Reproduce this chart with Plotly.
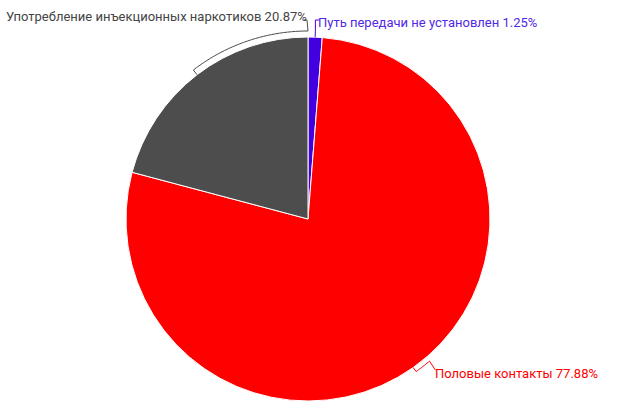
import math
import plotly.graph_objects as go

labels = ["Путь передачи не установлен", "Половые контакты", "Употребление инъекционных наркотиков"]
values = [1.25, 77.88, 20.87]
colors = ["#4200e0", "#ff0000", "#4d4d4d"]
text_colors = ["#5028e4", "#ff0000", "#444444"]

W, H = 630, 420
L, T, SIZE = 126, 37, 364
R_PX = SIZE / 2
CX, CY = L + R_PX, T + R_PX


def to_paper(px, py):
    return (px - L) / SIZE, 1 - (py - T) / SIZE


def polar(angle_deg, r):
    a = math.radians(angle_deg)
    return CX + r * math.sin(a), CY - r * math.cos(a)


def path_from(points):
    pts = [to_paper(*p) for p in points]
    return "M " + " L ".join(f"{x:.5f},{y:.5f}" for x, y in pts)


fig = go.Figure(go.Pie(
    labels=labels, values=values, sort=False, direction="clockwise", rotation=0,
    marker=dict(colors=colors, line=dict(color="#ffffff", width=1)),
    textinfo="none", hoverinfo="label+percent", showlegend=False,
))

total = sum(values)
starts, ends = [], []
acc = 0
for v in values:
    starts.append(acc / total * 360)
    acc += v
    ends.append(acc / total * 360)
mids = [(s + e) / 2 for s, e in zip(starts, ends)]

off = 6
shapes = []
annotations = []
font = "Roboto, sans-serif"
fs = 13

# blue label (index 0)
p0 = polar(mids[0], R_PX)
p1 = polar(mids[0], R_PX + off)
top_y = 20
pts = [p0, p1, (p1[0], top_y), (p1[0] + 4, top_y)]
shapes.append(dict(type="path", path=path_from(pts), xref="paper", yref="paper",
                   line=dict(color=colors[0], width=1)))
ax, ay = to_paper(p1[0] + 1, 23)
annotations.append(dict(text=f"{labels[0]} {values[0]:.2f}%", x=ax, y=ay, xref="paper", yref="paper",
                        xanchor="left", yanchor="middle", showarrow=False,
                        font=dict(family=font, size=fs, color=text_colors[0])))

# gray label (index 2)
arc = [polar(mids[2], R_PX)]
n = 30
for i in range(n + 1):
    ang = mids[2] + (ends[2] - mids[2]) * i / n
    arc.append(polar(ang, R_PX + off))
last = arc[-1]
arc.append((last[0] - 1, top_y))
arc.append((last[0] - 4, top_y))
shapes.append(dict(type="path", path=path_from(arc), xref="paper", yref="paper",
                   line=dict(color=colors[2], width=1)))
ax, ay = to_paper(last[0] + 1, 17)
annotations.append(dict(text=f"{labels[2]} {values[2]:.2f}%", x=ax, y=ay, xref="paper", yref="paper",
                        xanchor="right", yanchor="middle", showarrow=False,
                        font=dict(family=font, size=fs, color=text_colors[2])))

# red label (index 1)
q0 = polar(mids[1], R_PX)
arc = [q0]
for i in range(11):
    ang = mids[1] - 5.2 * i / 10
    arc.append(polar(ang, R_PX + 5))
end_pt = (arc[-1][0] + 6, arc[-1][1] + 9)
arc.append(end_pt)
shapes.append(dict(type="path", path=path_from(arc), xref="paper", yref="paper",
                   line=dict(color=colors[1], width=1)))
ax, ay = to_paper(end_pt[0] - 2, 373)
annotations.append(dict(text=f"{labels[1]} {values[1]:.2f}%", x=ax, y=ay, xref="paper", yref="paper",
                        xanchor="left", yanchor="middle", showarrow=False,
                        font=dict(family=font, size=fs, color=text_colors[1])))

fig.update_layout(
    width=W, height=H,
    margin=dict(l=L, r=W - L - SIZE, t=T, b=H - T - SIZE),
    paper_bgcolor="white", plot_bgcolor="white",
    shapes=shapes, annotations=annotations,
)

fig.write_html("out.html", config={"displayModeBar": False},
               post_script="document.body.style.margin='0';")
